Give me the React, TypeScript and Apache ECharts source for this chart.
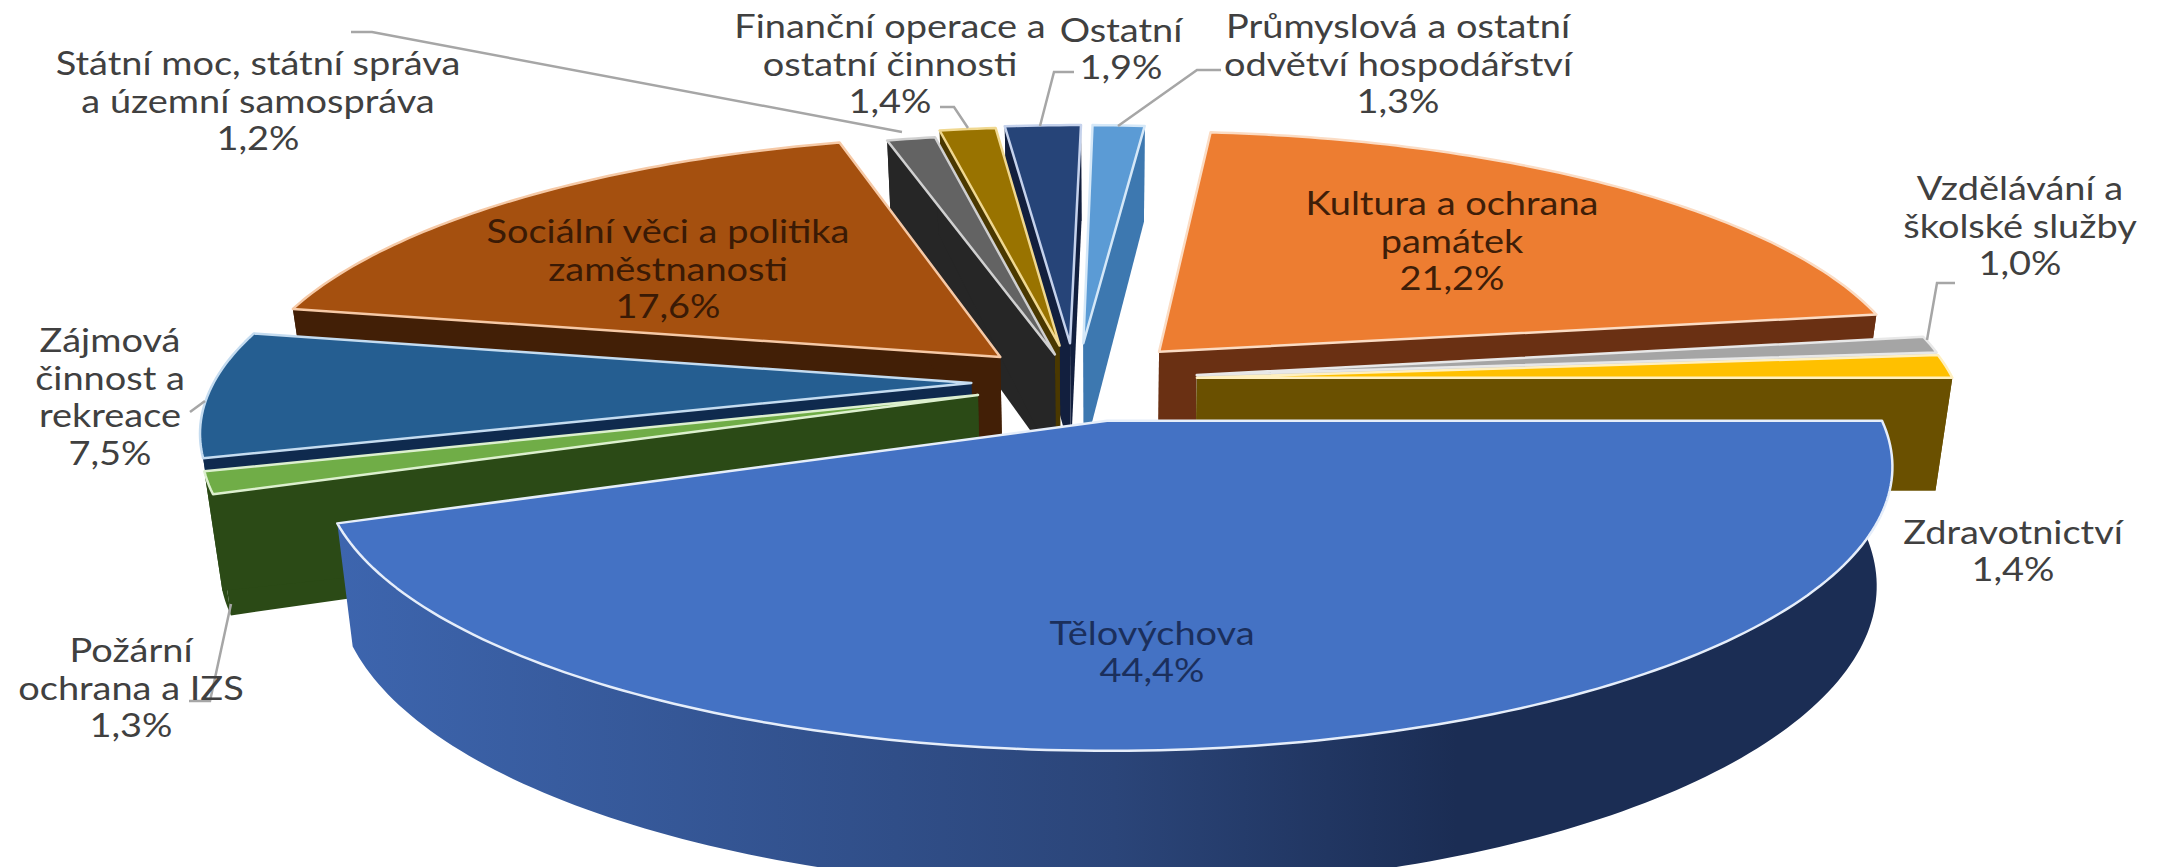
import React, { useEffect, useRef } from "react";
import * as echarts from "echarts";

const categories = [
  "Tělovýchova",
  "Požární ochrana a IZS",
  "Zájmová činnost a rekreace",
  "Sociální věci a politika zaměstnanosti",
  "Státní moc, státní správa a územní samospráva",
  "Finanční operace a ostatní činnosti",
  "Ostatní",
  "Průmyslová a ostatní odvětví hospodářství",
  "Kultura a ochrana památek",
  "Vzdělávání a školské služby",
  "Zdravotnictví",
];
const shares = [44.4, 1.3, 7.5, 17.6, 1.2, 1.4, 1.9, 1.3, 21.2, 1.0, 1.4];

const labelLines = [
  ["Tělovýchova"],
  ["Požární", "ochrana a IZS"],
  ["Zájmová", "činnost a", "rekreace"],
  ["Sociální věci a politika", "zaměstnanosti"],
  ["Státní moc, státní správa", "a územní samospráva"],
  ["Finanční operace a", "ostatní činnosti"],
  ["Ostatní"],
  ["Průmyslová a ostatní", "odvětví hospodářství"],
  ["Kultura a ochrana", "památek"],
  ["Vzdělávání a", "školské služby"],
  ["Zdravotnictví"],
];

// style: colours
const topColors = ["#4472C4", "#70AD47", "#255E91", "#A5500F", "#636363", "#997300", "#264478", "#5B9BD5", "#ED7D31", "#A5A5A5", "#FFC000"];
const wallColors = ["#2E4A82", "#2B4A16", "#0F2A4E", "#421F06", "#262626", "#4A3800", "#121F3E", "#3D78B0", "#6A3013", "#C8C8C8", "#6A5000"];
const rimColors = ["#E6EEFA", "#DDF0CF", "#C5DCF0", "#F6C9A6", "#D0D0D0", "#F0D890", "#C5D2EC", "#D5E8F8", "#FBDCC4", "#E8E8E8", "#FFF0C0"];
const labelColors = ["#1B2F5C", "#404040", "#404040", "#3A1A05", "#404040", "#404040", "#404040", "#404040", "#3F1E08", "#404040", "#404040"];

// style: per-slice explosion in the plane of the pie
const explodeX = [0, -0.169, -0.179, -0.143, -0.07, -0.064, -0.05, -0.032, 0.07, 0.119, 0.119];
const explodeY = [0, 0.095, 0.14, 0.24, 0.25, 0.285, 0.294, 0.294, 0.26, 0.17, 0.16];

const drawOrder = [7, 6, 5, 4, 8, 3, 9, 2, 10, 1, 0];

// style: label centres
const labelX = [1152, 131, 110, 668, 258, 890, 1121, 1398, 1452, 2020, 2013];
const labelY = [651, 687, 396, 268, 100, 63, 48, 63, 240, 225, 550];

// style: leader lines
const leaders = [
  [[351, 32], [372, 32], [902, 132]],
  [[940, 107], [954, 107], [968, 128]],
  [[1074, 72], [1054, 72], [1040, 126]],
  [[1221, 70], [1197, 70], [1118, 126]],
  [[1955, 283], [1937, 283], [1927, 340]],
  [[205, 401], [190, 412]],
  [[231, 604], [210, 701], [189, 701]],
];

// perspective camera
const CX = 1107;
const Y0 = -1285;
const H = 10525;
const F = 4782;
const D = 6.17;
const DEPTH = 716;
const TAPER = 0.98;
const START_DEG = 90;

const total = shares.reduce((a, b) => a + b, 0);
const fmt = (v: number) => v.toFixed(1).replace(".", ",") + "%";

function project(X: number, Y: number, low: boolean): number[] {
  const w = D + Y;
  const x = CX + (F * X) / w;
  const y = Y0 + H / w;
  if (!low) return [x, y];
  return [CX + (x - CX) * TAPER, y + DEPTH / w];
}

function sliceAngles(i: number): number[] {
  let before = 0;
  for (let k = 0; k < i; k++) before += shares[k];
  const a = START_DEG + (before / total) * 360;
  const b = a + (shares[i] / total) * 360;
  return [a, b];
}

function rimPoint(i: number, deg: number, low: boolean) {
  const t = (deg * Math.PI) / 180;
  return project(explodeX[i] + Math.sin(t), explodeY[i] + Math.cos(t), low);
}

function arc(i: number, a: number, b: number, low: boolean) {
  const n = Math.max(2, Math.ceil(Math.abs(b - a) / 1));
  const pts: number[][] = [];
  for (let k = 0; k <= n; k++) pts.push(rimPoint(i, a + ((b - a) * k) / n, low));
  return pts;
}

const renderItem = (_params: any, api: any) => {
  const i = api.value(0);
  const order = api.value(1);
  const [a, b] = sliceAngles(i);
  const apexT = project(explodeX[i], explodeY[i], false);
  const apexB = project(explodeX[i], explodeY[i], true);
  const arcT = arc(i, a, b, false);
  const arcB = arc(i, a, b, true);
  const wallFill: any =
    i === 0
      ? new echarts.graphic.LinearGradient(0, 0, 1, 0, [
          { offset: 0, color: "#3D65AE" },
          { offset: 0.5, color: "#2B4579" },
          { offset: 0.72, color: "#1B2D54" },
          { offset: 1, color: "#1B2D54" },
        ])
      : wallColors[i];
  const z = order * 10;
  const poly = (pts: number[][], style: any, dz: number) => ({
    type: "polygon",
    z2: z + dz,
    silent: true,
    shape: { points: pts },
    style,
  });
  const wallStyle = { fill: wallFill };
  const children: any[] = [poly([...arcT, ...arcB.slice().reverse()], wallStyle, 1)];
  if (i !== 0) {
    children.push(poly([apexT, arcT[0], arcB[0], apexB], { fill: wallColors[i] }, 2));
    children.push(poly([apexT, arcT[arcT.length - 1], arcB[arcB.length - 1], apexB], { fill: wallColors[i] }, 2));
  }
  children.push(
    poly([apexT, ...arcT], { fill: topColors[i], stroke: rimColors[i], lineWidth: 2.5, lineJoin: "round" }, 3)
  );
  return { type: "group", children };
};

export default function App() {
  const ref = useRef<HTMLDivElement>(null);
  useEffect(() => {
    document.body.style.margin = "0";
    const chart = echarts.init(ref.current!, null, { renderer: "svg" });
    const texts = categories.map((_, i) => ({
      type: "text",
      x: labelX[i],
      y: labelY[i],
      scaleX: 1.15,
      z: 100,
      silent: true,
      style: {
        text: [...labelLines[i], fmt(shares[i])].join("\n"),
        fill: labelColors[i],
        font: '33px Lato, "Noto Sans", sans-serif',
        lineHeight: 37.5,
        align: "center",
        verticalAlign: "middle",
      },
    }));
    const lines = leaders.map((pts) => ({
      type: "polyline",
      z: 90,
      silent: true,
      shape: { points: pts },
      style: { stroke: "#A6A6A6", lineWidth: 2.5, fill: "none" },
    }));
    chart.setOption({
      animation: false,
      backgroundColor: "#ffffff",
      tooltip: { show: false },
      graphic: { elements: [...lines, ...texts] },
      series: [
        {
          type: "custom",
          coordinateSystem: "none",
          silent: true,
          clip: false,
          renderItem,
          data: drawOrder.map((sliceIndex, order) => [sliceIndex, order]),
        },
      ],
    });
    return () => chart.dispose();
  }, []);
  return <div ref={ref} style={{ width: 2160, height: 867 }} />;
}
